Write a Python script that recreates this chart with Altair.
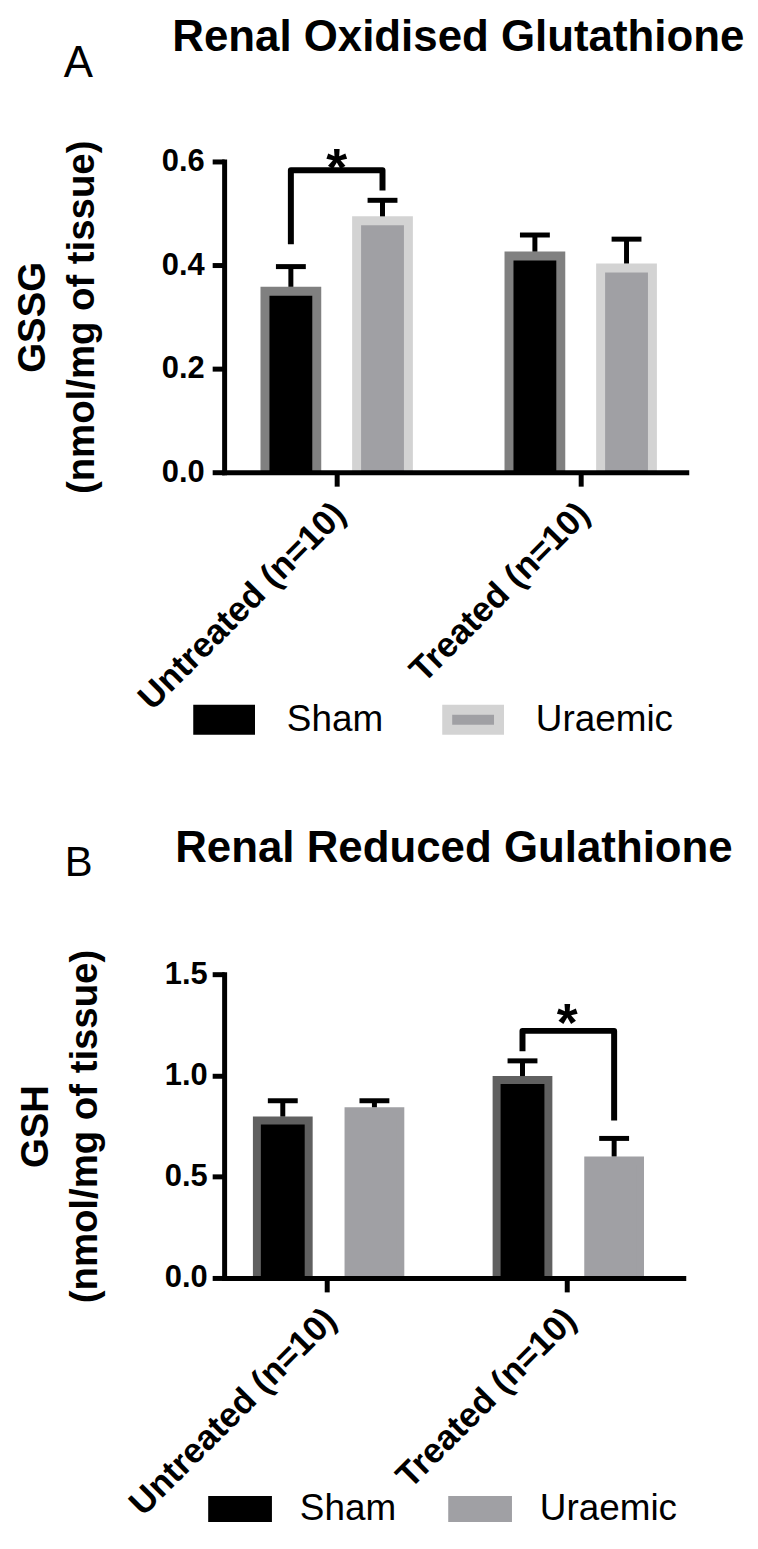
import altair as alt
import pandas as pd

groups = ["Untreated (n=10)", "Treated (n=10)"]
series = ["Sham", "Uraemic"]

# bar order: Untreated-Sham, Untreated-Uraemic, Treated-Sham, Treated-Uraemic
bar_group = ["Untreated (n=10)", "Untreated (n=10)", "Treated (n=10)", "Treated (n=10)"]
bar_series = ["Sham", "Uraemic", "Sham", "Uraemic"]

gssg_mean = [0.358, 0.494, 0.426, 0.403]
gssg_sem = [0.039, 0.031, 0.032, 0.047]
gsh_mean = [0.797, 0.843, 0.997, 0.600]
gsh_sem = [0.078, 0.032, 0.075, 0.089]

# significance brackets: left leg bottom, top, top, right leg bottom
bracket_series = ["Sham", "Sham", "Uraemic", "Uraemic"]
gssg_bracket_group = "Untreated (n=10)"
gssg_bracket_y = [0.440, 0.583, 0.583, 0.544]
gsh_bracket_group = "Treated (n=10)"
gsh_bracket_y = [1.120, 1.220, 1.220, 0.777]

gssg_ticks = [0.0, 0.2, 0.4, 0.6]
gsh_ticks = [0.0, 0.5, 1.0, 1.5]

FONT = "Liberation Sans"


def build_panel(p):
    bars = pd.DataFrame({
        "group": bar_group,
        "series": bar_series,
        "mean": p["mean"],
        "top": [m + s for m, s in zip(p["mean"], p["sem"])],
    })
    br = pd.DataFrame({
        "group": [p["br_group"]] * 4,
        "series": bracket_series,
        "y": p["br_y"],
        "k": [0, 1, 2, 3],
    })
    star = pd.DataFrame({"group": [p["br_group"]], "y": [p["br_y"][1]], "t": ["*"]})

    xscale = alt.Scale(paddingInner=p["pi"], paddingOuter=p["po"], align=p["align"])
    xaxis = alt.Axis(
        title=None, labelAngle=-45, labelAlign="right", labelBaseline="middle",
        labelFont=FONT, labelFontWeight="bold", labelFontSize=35, labelColor="black",
        labelPadding=p["xlabpad"], labelOffset=p["xlaboff"], labelLimit=0,
        tickSize=14, tickWidth=5, tickColor="black",
        domainWidth=5, domainColor="black", domainCap="square", zindex=1,
    )
    yscale = alt.Scale(domain=p["ydomain"], nice=False, zero=True)
    yaxis = alt.Axis(
        title=p["ytitle"], values=p["yticks"], format=".1f", grid=False,
        titleFont=FONT, titleFontSize=38.5, titleFontWeight="bold", titleColor="black",
        titleLineHeight=49, titlePadding=p["ytitlepad"],
        labelFont=FONT, labelFontWeight="bold", labelFontSize=31, labelColor="black",
        labelPadding=p["ylabpad"], tickSize=12, tickWidth=5, tickColor="black",
        domainWidth=5, domainColor="black", domainCap="square", zindex=1,
    )
    xoff = alt.XOffset("series:N", sort=series,
                       scale=alt.Scale(paddingInner=p["opi"], paddingOuter=0))

    base = alt.Chart(bars)

    sw = p["bar_sw"]
    bar_layer = base.mark_bar(strokeWidth=sw, yOffset=sw / 2, clip=True).encode(
        x=alt.X("group:N", sort=groups, scale=xscale, axis=xaxis),
        xOffset=xoff,
        y=alt.Y("mean:Q", scale=yscale, axis=yaxis),
        fill=alt.Fill("series:N", sort=series,
                      scale=alt.Scale(domain=series, range=p["inner_range"]), legend=None),
        stroke=alt.Stroke("series:N", sort=series,
                          scale=alt.Scale(domain=series, range=p["border_range"]), legend=None),
    )

    leg = alt.Legend(
        orient="none", legendX=p["legx"], legendY=p["legy"], direction="horizontal",
        title=None, symbolType=p["sym_path"], symbolSize=p["sym_size"],
        symbolStrokeWidth=p["sym_sw"], symbolOpacity=1,
        labelFont=FONT, labelFontSize=37, labelColor="black", labelOffset=p["laboff"],
        columnPadding=p["colpad"], padding=0, labelLimit=0,
    )
    # zero-height bars sitting under the x axis: they only carry the legend
    legend_layer = base.mark_bar(clip=True).encode(
        x=alt.X("group:N", sort=groups),
        xOffset=alt.XOffset("series:N", sort=series),
        y=alt.datum(0),
        fill=alt.Fill("series:N", sort=series,
                      scale=alt.Scale(domain=series, range=p["inner_range"]), legend=leg),
        stroke=alt.Stroke("series:N", sort=series,
                          scale=alt.Scale(domain=series, range=p["legend_stroke"]), legend=leg),
    )

    stem = base.mark_rule(strokeWidth=5, color="black").encode(
        x=alt.X("group:N", sort=groups),
        xOffset=alt.XOffset("series:N", sort=series),
        y=alt.Y("mean:Q"),
        y2="top:Q",
    )
    cap = base.mark_tick(orient="horizontal", size=30, thickness=5, color="black", opacity=1).encode(
        x=alt.X("group:N", sort=groups),
        xOffset=alt.XOffset("series:N", sort=series),
        y=alt.Y("top:Q"),
    )
    bracket = alt.Chart(br).mark_line(strokeWidth=6, color="black", strokeJoin="round",
                                      strokeCap="butt").encode(
        x=alt.X("group:N", sort=groups),
        xOffset=alt.XOffset("series:N", sort=series),
        y=alt.Y("y:Q"),
        order="k:Q",
    )
    stars = alt.Chart(star).mark_text(font=FONT, fontWeight="bold", fontSize=54,
                                      color="black", dy=p["star_dy"], baseline="alphabetic").encode(
        x=alt.X("group:N", sort=groups),
        y=alt.Y("y:Q"),
        text="t:N",
    )

    layered = alt.layer(bar_layer, legend_layer, stem, cap, bracket, stars).properties(
        width=p["width"], height=p["height"],
        title=alt.TitleParams(p["letter"], anchor="start", frame="bounds", dx=p["letter_dx"],
                              offset=p["letter_offset"], font=FONT, fontSize=p["letter_size"],
                              fontWeight="normal", color="black"),
    ).resolve_scale(fill="independent", stroke="independent")

    return alt.vconcat(layered).properties(
        title=alt.TitleParams(p["title"], anchor="start", frame="bounds", dx=p["title_dx"],
                              offset=p["title_offset"], font=FONT, fontSize=44,
                              fontWeight="bold", color="black"),
    )


panel_a = build_panel(dict(
    letter="A", title="Renal Oxidised Glutathione",
    ytitle=["GSSG", "(nmol/mg of tissue)"],
    mean=gssg_mean, sem=gssg_sem, br_group=gssg_bracket_group, br_y=gssg_bracket_y,
    ydomain=[0, 0.6], yticks=gssg_ticks, width=464, height=312,
    pi=0.4122, po=0.153, align=0.547, opi=0.4348, bar_sw=9,
    inner_range=["#000000", "#a0a0a4"], border_range=["#808080", "#d3d3d3"],
    legend_stroke=["#000000", "#d3d3d3"],
    sym_path="M-1,-0.385H1V0.385H-1Z", sym_size=2704, sym_sw=10,
    legx=-31, legy=529, laboff=32, colpad=44,
    xlabpad=22, xlaboff=3, ylabpad=8, ytitlepad=60, star_dy=16,
    letter_dx=50, letter_offset=54, letter_size=44, title_dx=159, title_offset=-18,
))

panel_b = build_panel(dict(
    letter="B", title="Renal Reduced Gulathione",
    ytitle=["GSH", "(nmol/mg of tissue)"],
    mean=gsh_mean, sem=gsh_sem, br_group=gsh_bracket_group, br_y=gsh_bracket_y,
    ydomain=[0, 1.5], yticks=gsh_ticks, width=461, height=305,
    pi=0.41, po=0.1627, align=0.42, opi=0.422, bar_sw=8,
    inner_range=["#000000", "#a0a0a4"], border_range=["#606060", "#a0a0a4"],
    legend_stroke=["#000000", "#a0a0a4"],
    sym_path="M-1,-0.41H1V0.41H-1Z", sym_size=4096, sym_sw=0,
    legx=-16, legy=505, laboff=28, colpad=52,
    xlabpad=22, xlaboff=3, ylabpad=5, ytitlepad=60, star_dy=10,
    letter_dx=48, letter_offset=65, letter_size=42, title_dx=159, title_offset=-29,
))

chart = alt.vconcat(panel_a, panel_b, spacing=76).resolve_scale(
    fill="independent", stroke="independent", x="independent", y="independent"
).resolve_legend(fill="independent", stroke="independent").configure(
    padding={"left": 5, "top": 5, "right": 5, "bottom": 5},
    view=alt.ViewConfig(stroke="transparent", strokeWidth=0),
)

chart.save("out.html", embed_options={"renderer": "svg", "actions": False})
